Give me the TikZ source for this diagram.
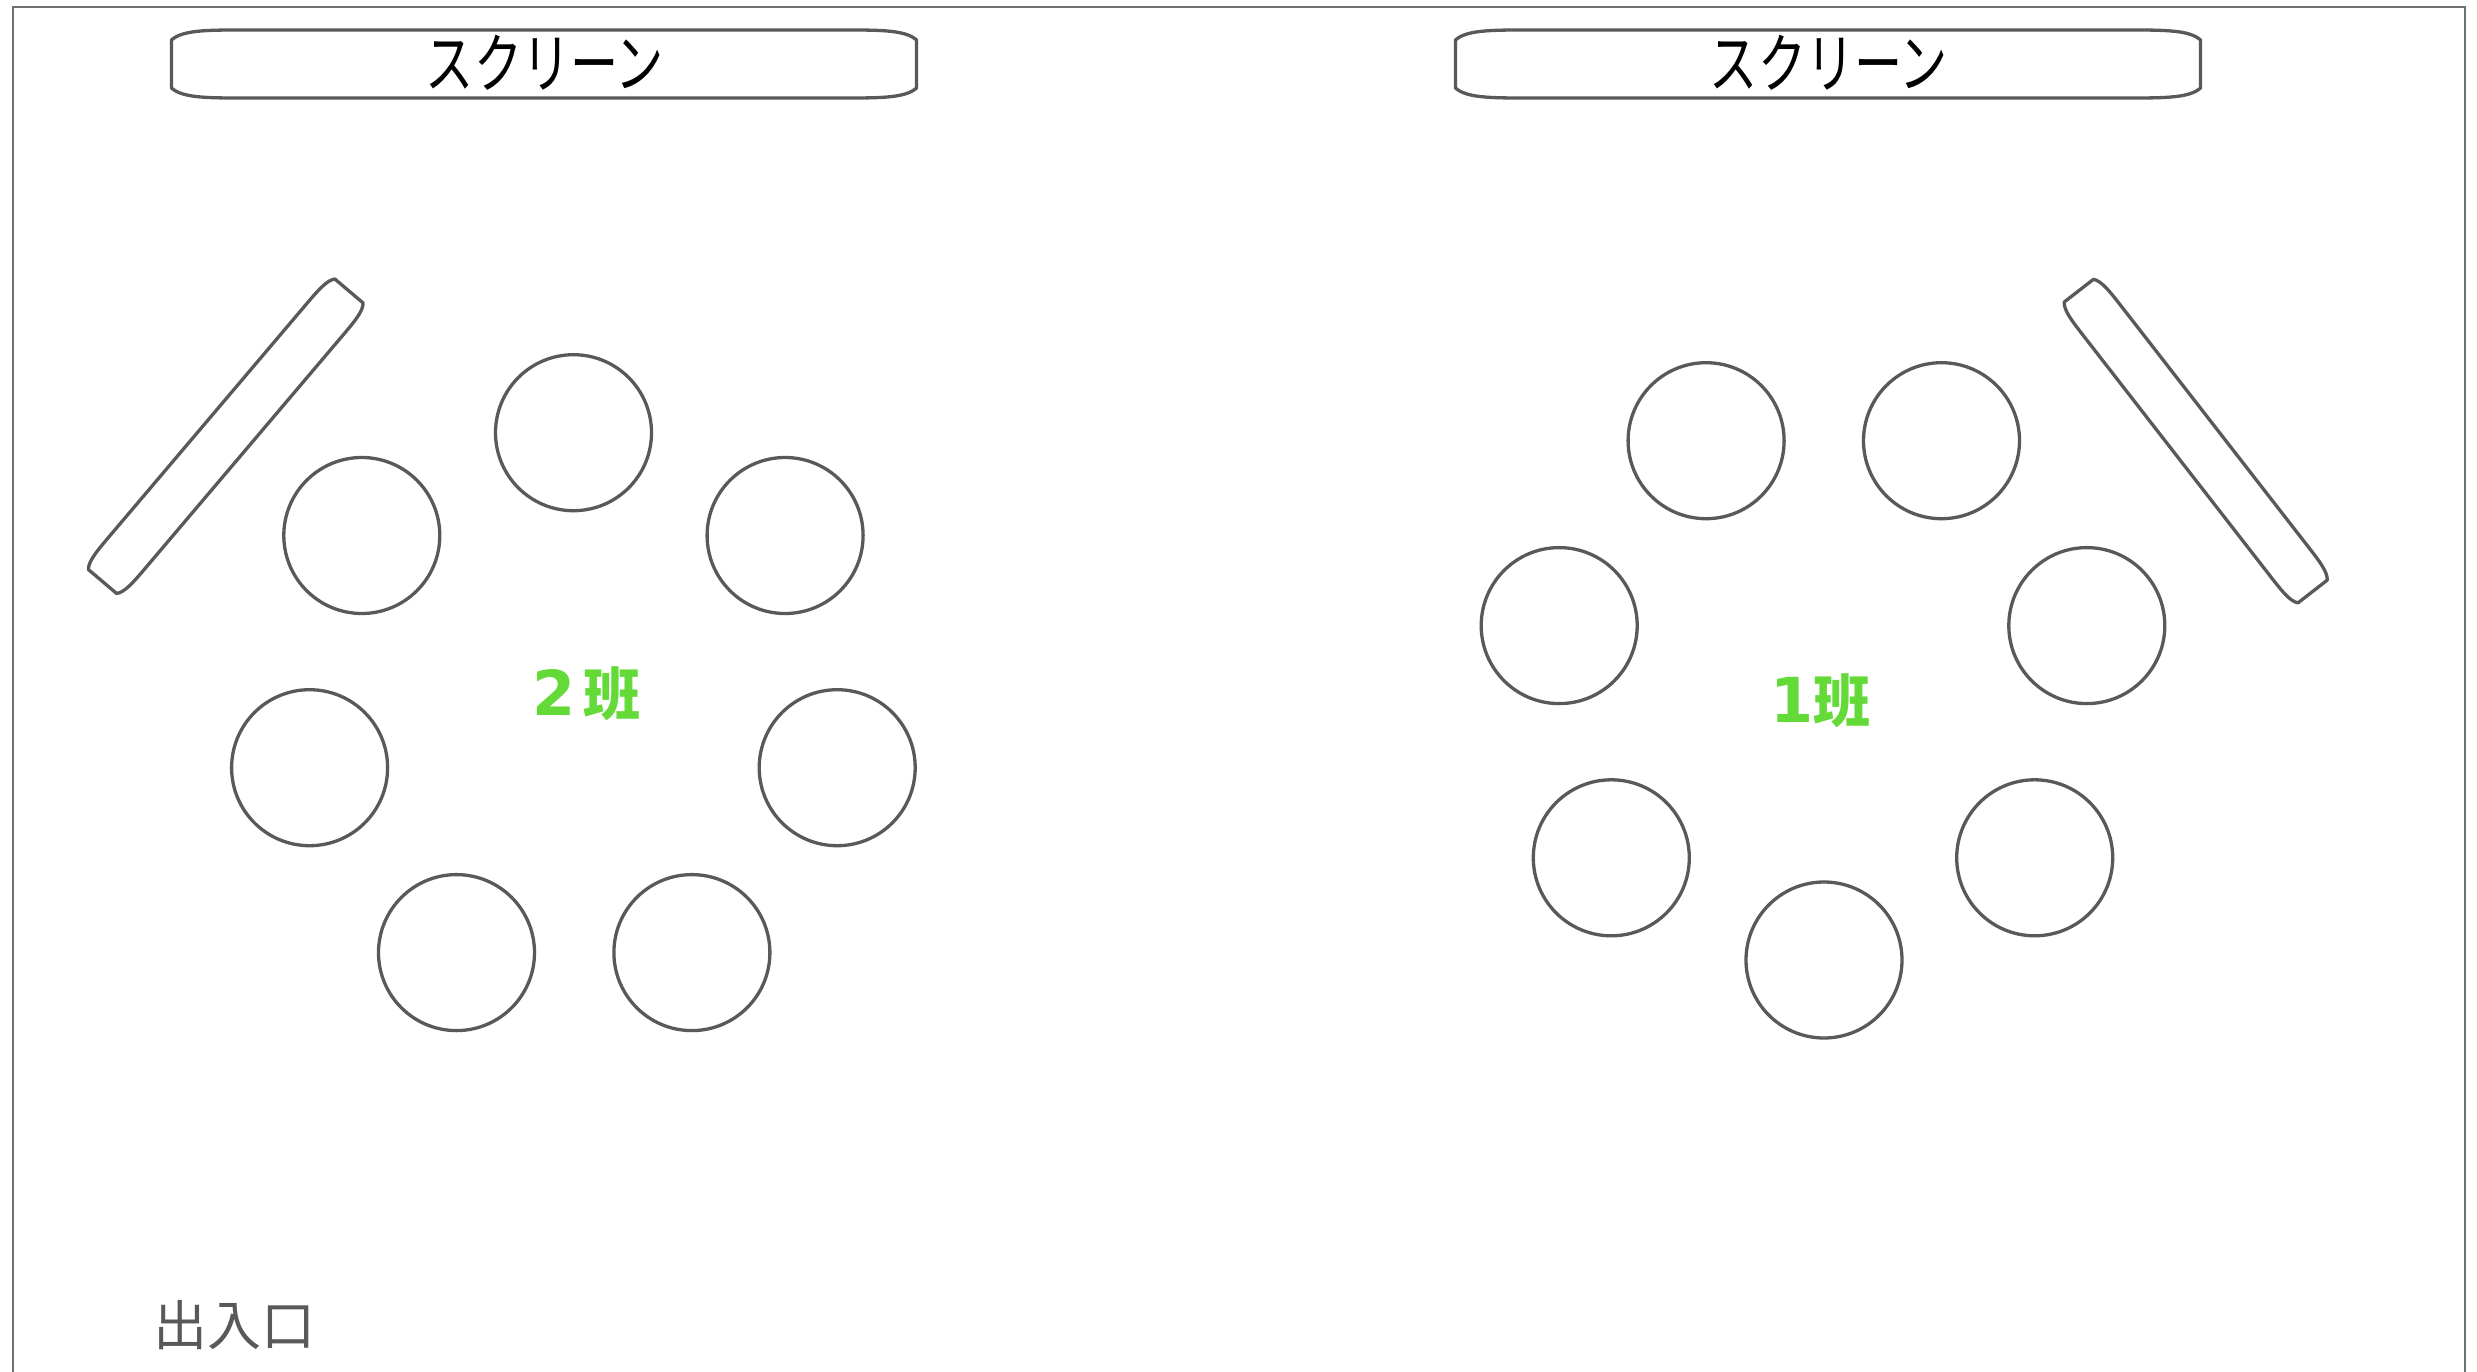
\documentclass[tikz,border=0pt]{standalone}
\usepackage{fontspec}
\newfontfamily\jpfont{Noto Sans CJK JP}
\newfontfamily\jpnarrow[FakeStretch=0.74]{Noto Sans CJK JP}
\newfontfamily\digitfont{DejaVu Sans}
\definecolor{linegray}{RGB}{89,89,89}
\definecolor{framegray}{RGB}{112,112,112}
\definecolor{teamgreen}{RGB}{99,218,56}
\tikzset{
  seat/.style={circle, draw=linegray, line width=3.3pt, minimum size=156pt, inner sep=0pt},
  outline/.style={draw=linegray, line width=3.3pt, line join=round},
  screentext/.style={font=\jpnarrow\fontsize{65}{65}\selectfont, text=black, inner sep=0pt},
  teamlabel/.style={text=teamgreen, inner sep=0pt},
  frameline/.style={draw=framegray, line width=2pt}
}
% #1 options, #2 half length, #3 half width (long sides), #4 half short side, #5 curve length
\newcommand\drawbar[5][]{%
  \draw[outline,#1] (-#2,-#4) .. controls (-#2+0.15*#5,-#3) and (-#2+0.5*#5,-#3) .. (-#2+#5,-#3)
    -- (#2-#5,-#3) .. controls (#2-0.5*#5,-#3) and (#2-0.15*#5,-#3) .. (#2,-#4)
    -- (#2,#4) .. controls (#2-0.15*#5,#3) and (#2-0.5*#5,#3) .. (#2-#5,#3)
    -- (-#2+#5,#3) .. controls (-#2+0.5*#5,#3) and (-#2+0.15*#5,#3) .. (-#2,#4) -- cycle;}
\begin{document}
\begin{tikzpicture}[x=1pt,y=-1pt]
\useasboundingbox (0,0) rectangle (2477,1372);
% frame
\draw[frameline] (12.7,1372) -- (12.7,7) -- (2465,7) -- (2465,1372);
% screens
\drawbar[shift={(544,64)}]{372.5}{34}{24}{72}
\drawbar[shift={(1828,64)}]{372.5}{34}{24}{72}
\node[screentext] (screen2) at (545,63) {スクリーン};
\node[screentext] (screen1) at (1829,63) {スクリーン};
% boards
\drawbar[shift={(225.75,436.25)},rotate=49.7]{190.5}{24}{18.5}{40}
\drawbar[shift={(2195.7,441.1)},rotate=-52.15]{190.5}{24}{18.5}{40}
% group 2 seats
\node[seat] (a1) at (573.5,432.7) {};
\node[seat] (a2) at (361.8,535.5) {};
\node[seat] (a3) at (785.1,535.5) {};
\node[seat] (a4) at (309.6,767.7) {};
\node[seat] (a5) at (837.2,767.7) {};
\node[seat] (a6) at (456.5,952.6) {};
\node[seat] (a7) at (691.9,952.6) {};
% group 1 seats
\node[seat] (b1) at (1706.1,440.7) {};
\node[seat] (b2) at (1941.5,440.7) {};
\node[seat] (b3) at (1559.2,625.6) {};
\node[seat] (b4) at (2086.8,625.6) {};
\node[seat] (b5) at (1611.3,857.8) {};
\node[seat] (b6) at (2034.7,857.8) {};
\node[seat] (b7) at (1824,960) {};
% labels
\node[teamlabel] (team2) at (586.5,693.5) {{\digitfont\bfseries\fontsize{62}{62}\selectfont 2}\hspace{8pt}{\jpfont\bfseries\fontsize{57}{57}\selectfont 班}};
\node[teamlabel] (team1) at (1820.5,701) {{\digitfont\bfseries\fontsize{62}{62}\selectfont 1}{\jpfont\bfseries\fontsize{57}{57}\selectfont 班}};
\node[text=linegray, font=\jpfont\fontsize{54}{54}\selectfont, inner sep=0pt] (exit) at (234,1325) {出入口};
\end{tikzpicture}
\end{document}
